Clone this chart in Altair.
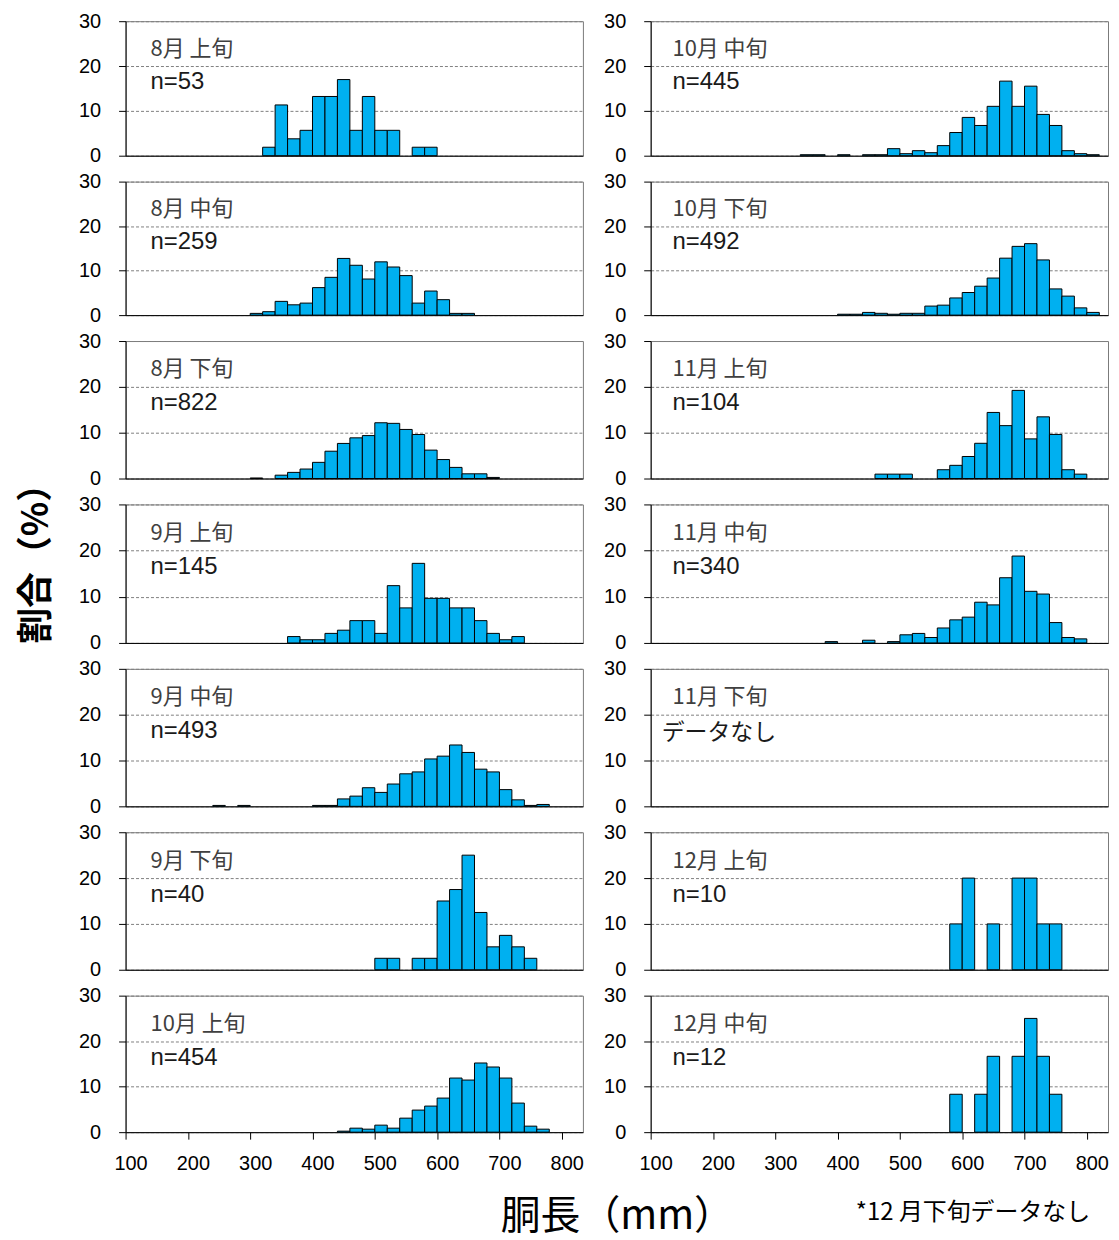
import altair as alt
import pandas as pd

# ---------------- data ----------------
periods_left = ["8月 上旬", "8月 中旬", "8月 下旬", "9月 上旬", "9月 中旬", "9月 下旬", "10月 上旬"]
periods_right = ["10月 中旬", "10月 下旬", "11月 上旬", "11月 中旬", "11月 下旬", "12月 上旬", "12月 中旬"]
n_left = [53, 259, 822, 145, 493, 40, 454]
n_right = [445, 492, 104, 340, None, 10, 12]
x_ticks = [100, 200, 300, 400, 500, 600, 700, 800]
y_ticks = [0, 10, 20, 30]
bin_width = 20  # mm

# percentage per 20 mm class, starting at the given lower bound (mm)
start_aug_early = 320
pct_aug_early = [1.89, 11.32, 3.77, 5.66, 13.21, 13.21, 16.98, 5.66, 13.21, 5.66, 5.66, 0, 1.89, 1.89]
start_aug_mid = 300
pct_aug_mid = [0.39, 0.77, 3.09, 2.32, 2.70, 6.18, 8.49, 12.74, 11.20, 8.11, 11.97, 10.81, 8.88, 2.70,
               5.41, 3.47, 0.39, 0.39]
start_aug_late = 300
pct_aug_late = [0.12, 0, 0.73, 1.34, 2.07, 3.53, 5.96, 7.66, 8.88, 9.37, 12.17, 12.04, 10.71, 9.61,
                6.20, 4.14, 2.43, 1.03, 1.03, 0.24]
start_sep_early = 360
pct_sep_early = [1.38, 0.69, 0.69, 2.07, 2.76, 4.83, 4.83, 2.07, 12.41, 7.59, 17.24, 9.66, 9.66, 7.59,
                 7.59, 4.83, 2.07, 0.69, 1.38]
start_sep_mid = 240
pct_sep_mid = [0.20, 0, 0.20, 0, 0, 0, 0, 0, 0.20, 0.20, 1.62, 2.23, 4.06, 3.04, 4.87, 7.10, 7.51,
               10.34, 10.95, 13.39, 11.76, 8.11, 7.51, 3.65, 1.42, 0.20, 0.41]
start_sep_late = 500
pct_sep_late = [2.5, 2.5, 0, 2.5, 2.5, 15.0, 17.5, 25.0, 12.5, 5.0, 7.5, 5.0, 2.5]
start_oct_early = 440
pct_oct_early = [0.22, 0.88, 0.66, 1.54, 0.88, 3.08, 4.85, 5.73, 7.49, 11.89, 11.45, 15.20, 14.32,
                 11.89, 6.39, 1.32, 0.66]
start_oct_mid = 340
pct_oct_mid = [0.22, 0.22, 0, 0.22, 0, 0.22, 0.22, 1.57, 0.45, 1.12, 0.67, 2.25, 5.17, 8.54, 6.74,
               11.01, 16.63, 11.01, 15.51, 9.21, 6.74, 1.12, 0.45, 0.22]
start_oct_late = 400
pct_oct_late = [0.20, 0.20, 0.61, 0.41, 0.20, 0.41, 0.41, 2.03, 2.24, 3.86, 5.08, 6.50, 8.33, 12.80,
                15.45, 16.06, 12.40, 5.89, 4.27, 1.63, 0.61]
start_nov_early = 460
pct_nov_early = [0.96, 0.96, 0.96, 0, 0, 1.92, 2.88, 4.81, 7.69, 14.42, 11.54, 19.23, 8.65, 13.46,
                 9.62, 1.92, 0.96]
start_nov_mid = 380
pct_nov_mid = [0.29, 0, 0, 0.59, 0, 0.29, 1.76, 2.06, 1.18, 3.24, 5.00, 5.59, 8.82, 8.24, 14.12,
               18.82, 11.18, 10.59, 4.41, 1.18, 0.88]
start_nov_late = None
pct_nov_late = []
start_dec_early = 580
pct_dec_early = [10, 20, 0, 10, 0, 20, 20, 10, 10]
start_dec_mid = 580
pct_dec_mid = [8.33, 0, 8.33, 16.67, 0, 16.67, 25.0, 16.67, 8.33]

no_data_text = "データなし"
x_title = "胴長（mm）"
y_title = "割合（%）"
footnote = "*12 月下旬データなし"

left_series = [(start_aug_early, pct_aug_early), (start_aug_mid, pct_aug_mid),
               (start_aug_late, pct_aug_late), (start_sep_early, pct_sep_early),
               (start_sep_mid, pct_sep_mid), (start_sep_late, pct_sep_late),
               (start_oct_early, pct_oct_early)]
right_series = [(start_oct_mid, pct_oct_mid), (start_oct_late, pct_oct_late),
                (start_nov_early, pct_nov_early), (start_nov_mid, pct_nov_mid),
                (start_nov_late, pct_nov_late), (start_dec_early, pct_dec_early),
                (start_dec_mid, pct_dec_mid)]

# ---------------- style ----------------
FONT_NUM = "Liberation Sans"
FONT_JP = "Noto Sans CJK JP"
W = 459
ROW_H = [135, 134, 138, 139, 138, 138, 137]
BAR_COLOR = "#00B0F0"

xscale = alt.Scale(domain=[100, 834], nice=False, zero=False)
yscale = alt.Scale(domain=[0, 30], nice=False, zero=True)


def make_yaxis(with_title):
    kw = dict(values=y_ticks, labelFont=FONT_NUM, labelFontSize=20, labelColor="black",
              labelPadding=18, labelFlush=False, tickSize=7, tickColor="black",
              domainColor="black", grid=True, gridDash=[3, 2], gridColor="#808080",
              gridWidth=1, minExtent=50, maxExtent=50)
    if with_title:
        kw.update(title=y_title, titleFont=FONT_JP, titleFontSize=36, titleFontWeight="bold",
                  titleColor="black", titleAngle=270, titleAlign="center",
                  titleBaseline="middle", titleX=-89, titleY=50)
    else:
        kw.update(title=None)
    return alt.Axis(**kw)


def make_xaxis(bottom, col):
    if not bottom:
        return alt.Axis(labels=False, ticks=False, grid=False, domainColor="black", title=None)
    kw = dict(values=x_ticks, labelFont=FONT_NUM, labelFontSize=20, labelColor="black",
              labelOffset=5, labelPadding=14, labelFlush=False, tickSize=7, tickColor="black",
              domainColor="black", grid=False, titleColor="black", titleFont=FONT_JP,
              titleAlign="center", titleBaseline="middle", titleFontWeight="normal")
    if col == 0:
        kw.update(title=x_title, titleFontSize=40, titleX=493, titleY=85)
    else:
        kw.update(title=footnote, titleFontSize=24, titleX=323, titleY=81)
    return alt.Axis(**kw)


def make_panel(period, n, series, col, row):
    start, vals = series
    xaxis = make_xaxis(row == 6, col)
    yaxis = make_yaxis(col == 0 and row == 3)
    label_x = 140 if col == 0 else 135
    layers = []
    if start is not None:
        recs = [{"x0": start + i * bin_width, "x1": start + (i + 1) * bin_width, "pct": v}
                for i, v in enumerate(vals) if v > 0]
        bars = alt.Chart(pd.DataFrame(recs)).mark_bar(
            color=BAR_COLOR, stroke="black", strokeWidth=1
        ).encode(
            x=alt.X("x0:Q", scale=xscale, axis=xaxis),
            x2="x1:Q",
            y=alt.Y("pct:Q", scale=yscale, axis=yaxis),
            y2=alt.datum(0),
        )
        layers.append(bars)
    lab = alt.Chart(pd.DataFrame({"x0": [label_x], "pct": [23.8], "t": [period]})).mark_text(
        align="left", baseline="middle", font=FONT_JP, fontSize=22, color="#404040"
    ).encode(
        x=alt.X("x0:Q", scale=xscale, axis=xaxis),
        y=alt.Y("pct:Q", scale=yscale, axis=yaxis),
        text="t:N",
    )
    layers.append(lab)
    if n is not None:
        sub = pd.DataFrame({"x0": [label_x], "pct": [16.4], "t": [f"n={n}"]})
        sub_mark = alt.Chart(sub).mark_text(
            align="left", baseline="middle", font=FONT_NUM, fontSize=24, color="#1a1a1a")
    else:
        sub = pd.DataFrame({"x0": [117.6], "pct": [16.0], "t": [no_data_text]})
        sub_mark = alt.Chart(sub).mark_text(
            align="left", baseline="middle", font=FONT_JP, fontSize=23, color="#1a1a1a")
    layers.append(sub_mark.encode(
        x=alt.X("x0:Q", scale=xscale, axis=xaxis),
        y=alt.Y("pct:Q", scale=yscale, axis=yaxis),
        text="t:N",
    ))
    return alt.layer(*layers).properties(width=W, height=ROW_H[row])


panels = []
for r in range(7):
    panels.append(make_panel(periods_left[r], n_left[r], left_series[r], 0, r))
    panels.append(make_panel(periods_right[r], n_right[r], right_series[r], 1, r))

chart = alt.concat(*panels, columns=2, spacing={"row": 26, "column": 68}, bounds="flush",
                   align="each").properties(
    padding={"left": 10, "top": 0, "right": 2, "bottom": 2}
).configure_view(
    stroke="#7a7a7a", strokeWidth=1
).configure_axis(
    domainWidth=1, tickWidth=1
)

chart.save("out.html", embed_options={"renderer": "svg", "actions": False})
